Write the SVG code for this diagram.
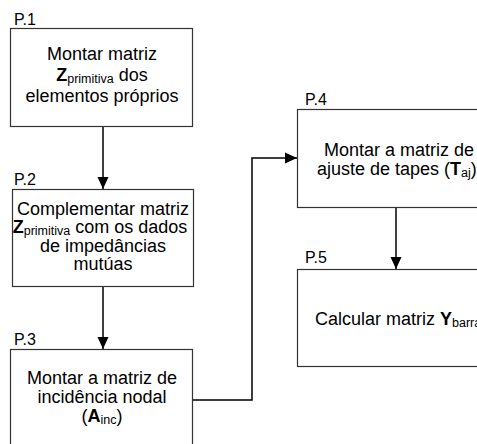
<svg xmlns="http://www.w3.org/2000/svg" width="477" height="444" viewBox="0 0 477 444">
<style>
.box{fill:#fff;stroke:#333;stroke-width:1.2}
.t{font-family:"Liberation Sans",Arial,sans-serif;font-size:18px;fill:#000}
.lbl{font-family:"Liberation Sans",Arial,sans-serif;font-size:16px;fill:#000}
.b{font-weight:bold}
.sub{font-size:12.5px}
.c{fill:none;stroke:#000;stroke-width:1.5}
</style>
<defs>
<marker id="ah" markerWidth="12" markerHeight="12" refX="12" refY="6" orient="auto" markerUnits="userSpaceOnUse">
<path d="M0,0.5 L12,6 L0,11.5 Z" fill="#000"/>
</marker>
</defs>
<rect width="477" height="444" fill="#fff"/>
<g id="connectors">
<line class="c" x1="103" y1="127" x2="103" y2="189" marker-end="url(#ah)"/>
<line class="c" x1="103" y1="286" x2="103" y2="349" marker-end="url(#ah)"/>
<polyline class="c" points="193,400 252,400 252,158 297,158" marker-end="url(#ah)"/>
<line class="c" x1="396" y1="208" x2="396" y2="269" marker-end="url(#ah)"/>
</g>
<g id="p1">
<text class="lbl" x="14" y="25">P.1</text>
<rect class="box" x="10.5" y="28.5" width="182" height="98"/>
<text class="t" text-anchor="middle" x="102" y="60">Montar matriz</text>
<text class="t" text-anchor="middle" x="102" y="81"><tspan class="b">Z</tspan><tspan class="sub" dy="2">primitiva</tspan><tspan dy="-2"> dos</tspan></text>
<text class="t" text-anchor="middle" x="102" y="102">elementos próprios</text>
</g>
<g id="p2">
<text class="lbl" x="14" y="185">P.2</text>
<rect class="box" x="12.5" y="189.5" width="181" height="97"/>
<text class="t" text-anchor="middle" x="103" y="215">Complementar matriz</text>
<text class="t" text-anchor="middle" x="100" y="233"><tspan class="b">Z</tspan><tspan class="sub" dy="2">primitiva</tspan><tspan dy="-2"> com os dados</tspan></text>
<text class="t" text-anchor="middle" x="103" y="252">de impedâncias</text>
<text class="t" text-anchor="middle" x="103" y="270">mutúas</text>
</g>
<g id="p3">
<text class="lbl" x="14" y="345">P.3</text>
<rect class="box" x="10.5" y="349.5" width="182" height="110"/>
<text class="t" text-anchor="middle" x="102" y="384">Montar a matriz de</text>
<text class="t" text-anchor="middle" x="102" y="403">incidência nodal</text>
<text class="t" text-anchor="middle" x="102" y="422">(<tspan class="b">A</tspan><tspan class="sub" dy="2">inc</tspan><tspan dy="-2">)</tspan></text>
</g>
<g id="p4">
<text class="lbl" x="305" y="105">P.4</text>
<rect class="box" x="297.5" y="109.5" width="200" height="98"/>
<text class="t" x="324" y="156">Montar a matriz de</text>
<text class="t" x="317" y="175">ajuste de tapes (<tspan class="b">T</tspan><tspan class="sub" dy="2">aj</tspan><tspan dy="-2">)</tspan></text>
</g>
<g id="p5">
<text class="lbl" x="305" y="263">P.5</text>
<rect class="box" x="297.5" y="269.5" width="200" height="97"/>
<text class="t" x="315" y="325">Calcular matriz <tspan class="b">Y</tspan><tspan class="sub" dy="2">barra</tspan></text>
</g>
</svg>
